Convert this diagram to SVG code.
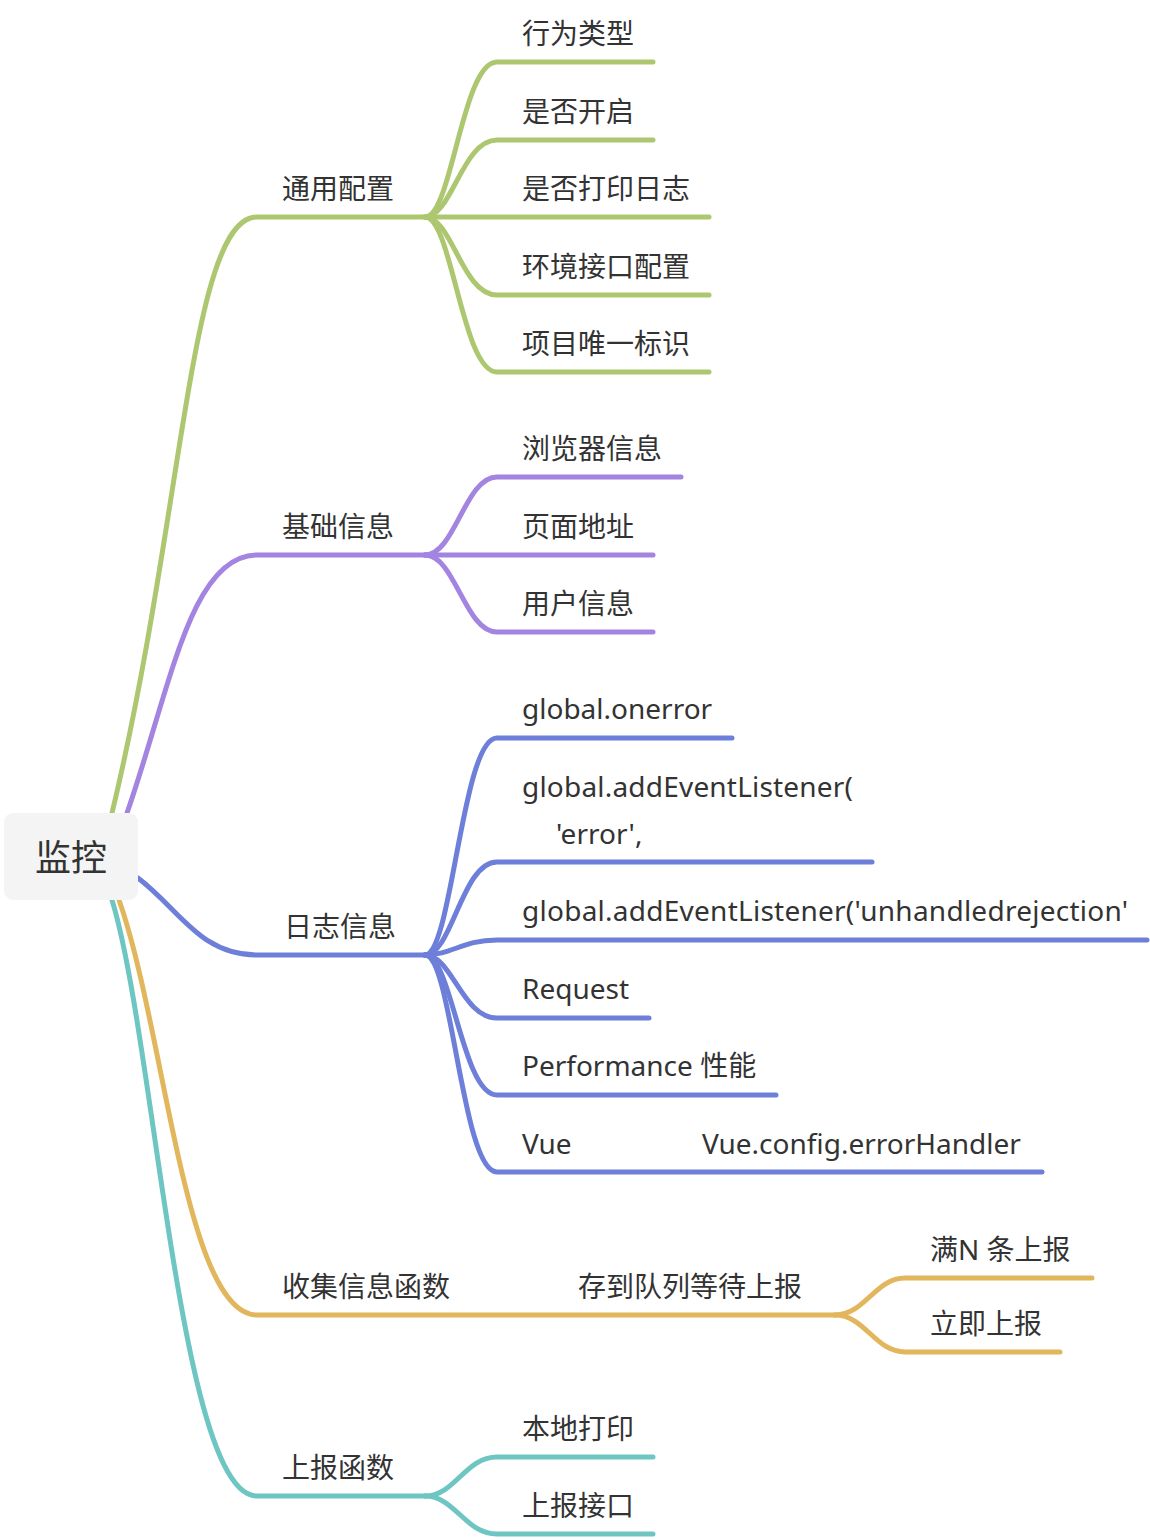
<svg xmlns="http://www.w3.org/2000/svg" width="1150" height="1540" viewBox="0 0 1150 1540">
<style>
.t{font-family:"Noto Sans","Noto Sans CJK SC",sans-serif;font-size:28px;fill:#333}
.c{fill:none;stroke-width:5;stroke-linecap:round}
.g{stroke:#adc771}.p{stroke:#a384e0}.b{stroke:#6d7fd9}.y{stroke:#e2b65c}.q{stroke:#6ec6c3}
</style>
<rect width="1150" height="1540" fill="#fff"/>
<g id="connectors">
<path class="c g" d="M112,813 C184,513 190,217 257,217 H425"/>
<path class="c g" d="M425,217 C452,217 462,62 497,62 H653"/>
<path class="c g" d="M425,217 C452,217 462,140 497,140 H653"/>
<path class="c g" d="M425,217 H709"/>
<path class="c g" d="M425,217 C452,217 462,295 497,295 H709"/>
<path class="c g" d="M425,217 C452,217 462,372 497,372 H709"/>
<path class="c p" d="M127,813 C170,690 190,555 257,555 H425"/>
<path class="c p" d="M425,555 C455,555 465,477 497,477 H681"/>
<path class="c p" d="M425,555 H653"/>
<path class="c p" d="M425,555 C455,555 465,632 497,632 H653"/>
<path class="c b" d="M138,878 C180,910 200,955 257,955 H425"/>
<path class="c b" d="M425,955 C452,955 462,738 497,738 H732"/>
<path class="c b" d="M425,955 C452,955 462,862 497,862 H872"/>
<path class="c b" d="M425,955 C452,955 462,940 497,940 H1147"/>
<path class="c b" d="M425,955 C452,955 462,1018 497,1018 H649"/>
<path class="c b" d="M425,955 C452,955 462,1095 497,1095 H776"/>
<path class="c b" d="M425,955 C452,955 462,1172 497,1172 H1042"/>
<path class="c y" d="M119,900 C165,1030 185,1315 257,1315 H835"/>
<path class="c y" d="M835,1315 C865,1315 875,1278 905,1278 H1092"/>
<path class="c y" d="M835,1315 C865,1315 875,1352 905,1352 H1060"/>
<path class="c q" d="M112,900 C155,1040 180,1496 257,1496 H425"/>
<path class="c q" d="M425,1496 C455,1496 465,1457 497,1457 H653"/>
<path class="c q" d="M425,1496 C455,1496 465,1534 497,1534 H653"/>
</g>
<g id="root">
<rect x="4" y="813" width="134" height="87" rx="9" fill="#f4f4f4"/>
<text x="71" y="871" text-anchor="middle" style="font-family:'Noto Sans CJK SC',sans-serif;font-size:36px;fill:#333">监控</text>
</g>
<g id="n-tongyong"><text class="t" x="282" y="199">通用配置</text></g>
<g id="n-xingwei"><text class="t" x="522" y="44">行为类型</text></g>
<g id="n-kaiqi"><text class="t" x="522" y="122">是否开启</text></g>
<g id="n-dayin"><text class="t" x="522" y="199">是否打印日志</text></g>
<g id="n-huanjing"><text class="t" x="522" y="277">环境接口配置</text></g>
<g id="n-xiangmu"><text class="t" x="522" y="354">项目唯一标识</text></g>
<g id="n-jichu"><text class="t" x="282" y="537">基础信息</text></g>
<g id="n-liulanqi"><text class="t" x="522" y="459">浏览器信息</text></g>
<g id="n-yemian"><text class="t" x="522" y="537">页面地址</text></g>
<g id="n-yonghu"><text class="t" x="522" y="614">用户信息</text></g>
<g id="n-rizhi"><text class="t" x="284" y="937">日志信息</text></g>
<g id="n-onerror"><text class="t" x="522" y="719">global.onerror</text></g>
<g id="n-adderror"><text class="t" x="522" y="797" textLength="331">global.addEventListener(</text><text class="t" x="556" y="844">'error',</text></g>
<g id="n-unhandled"><text class="t" x="522" y="921" textLength="606">global.addEventListener('unhandledrejection'</text></g>
<g id="n-request"><text class="t" x="522" y="999">Request</text></g>
<g id="n-perf"><text class="t" x="522" y="1076">Performance 性能</text></g>
<g id="n-vue"><text class="t" x="522" y="1154">Vue</text><text class="t" x="702" y="1154">Vue.config.errorHandler</text></g>
<g id="n-shouji"><text class="t" x="282" y="1297">收集信息函数</text></g>
<g id="n-cundao"><text class="t" x="578" y="1297">存到队列等待上报</text></g>
<g id="n-mann"><text class="t" x="930" y="1260">满N 条上报</text></g>
<g id="n-liji"><text class="t" x="930" y="1334">立即上报</text></g>
<g id="n-shangbao"><text class="t" x="282" y="1478">上报函数</text></g>
<g id="n-bendi"><text class="t" x="522" y="1439">本地打印</text></g>
<g id="n-jiekou"><text class="t" x="522" y="1516">上报接口</text></g>
</svg>
